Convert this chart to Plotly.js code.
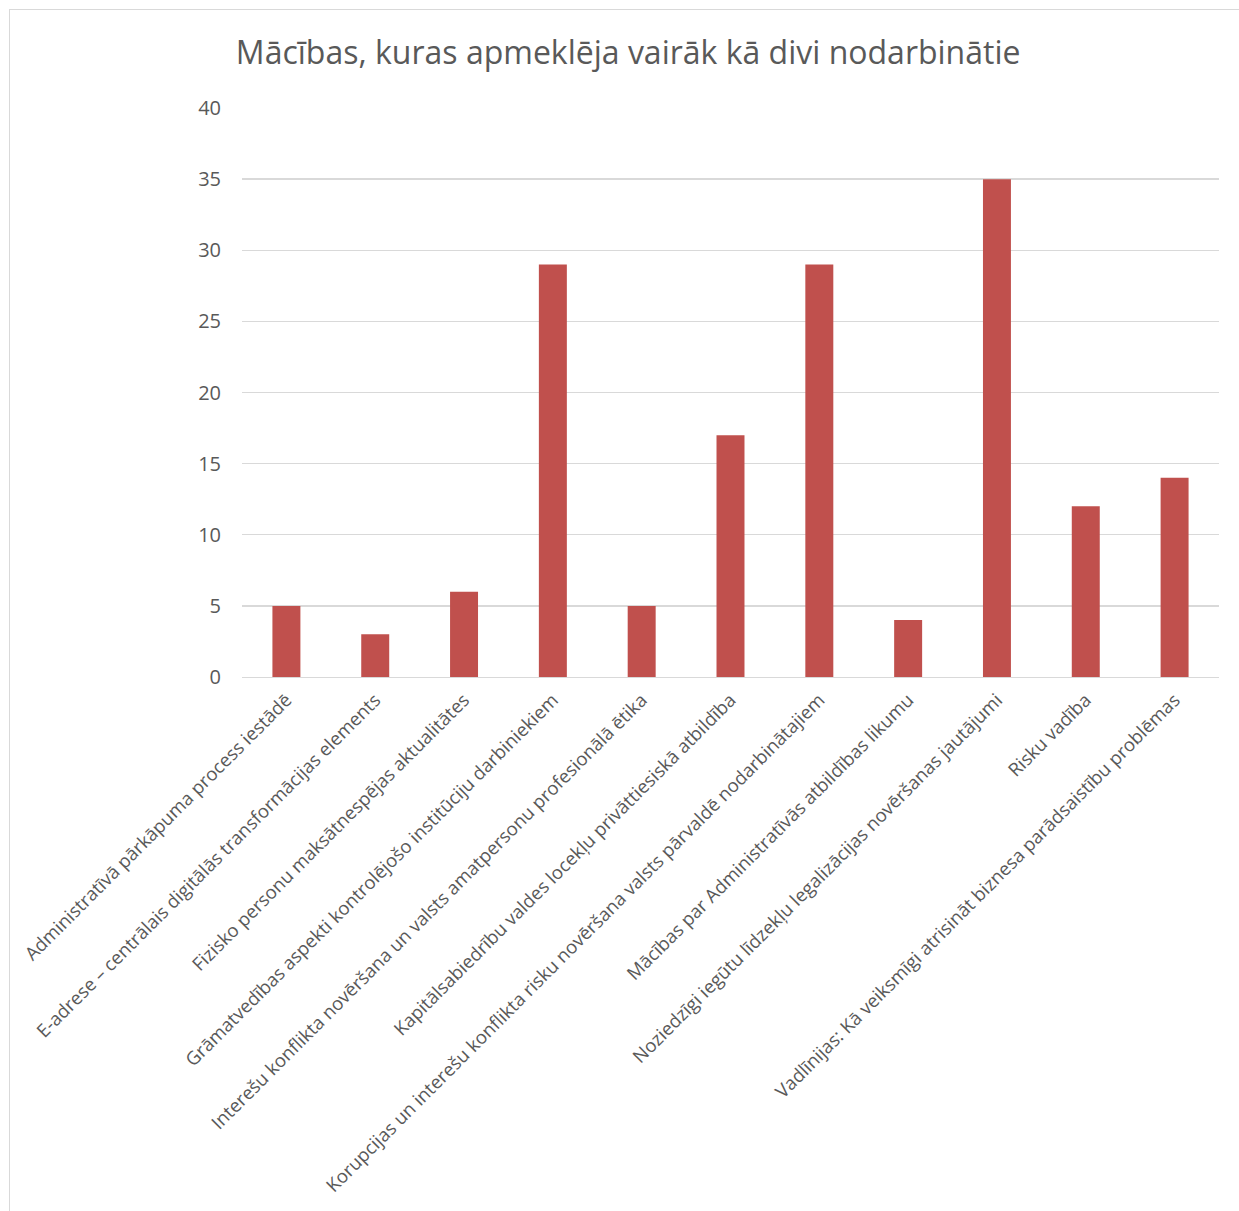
<!DOCTYPE html>
<html>
<head>
<meta charset="utf-8">
<script src="https://cdn.plot.ly/plotly-3.0.1.min.js"></script>
<style>
  html, body { margin: 0; padding: 0; background: #fff; }
  #wrap { position: relative; width: 1239px; height: 1211px; overflow: hidden; }
  #frame { position: absolute; left: 9px; top: 9px; width: 1260px; height: 1260px;
           border-left: 1px solid #d9d9d9; border-top: 1px solid #d9d9d9; pointer-events: none; }
  #chart { position: absolute; left: 0; top: 0; width: 1239px; height: 1211px; }
</style>
</head>
<body>
<div id="wrap">
  <div id="chart"></div>
  <div id="frame"></div>
</div>
<script>
const chartTitle = "Mācības, kuras apmeklēja vairāk kā divi nodarbinātie";
const categories = [
  "Administratīvā pārkāpuma process iestādē",
  "E-adrese – centrālais digitālās transformācijas elements",
  "Fizisko personu maksātnespējas aktualitātes",
  "Grāmatvedības aspekti kontrolējošo institūciju darbiniekiem",
  "Interešu konflikta novēršana un valsts amatpersonu profesionālā ētika",
  "Kapitālsabiedrību valdes locekļu privāttiesiskā atbildība",
  "Korupcijas un interešu konflikta risku novēršana valsts pārvaldē nodarbinātajiem",
  "Mācības par Administratīvās atbildības likumu",
  "Noziedzīgi iegūtu līdzekļu legalizācijas novēršanas jautājumi",
  "Risku vadība",
  "Vadlīnijas: Kā veiksmīgi atrisināt biznesa parādsaistību problēmas"
];
const values = [5, 3, 6, 29, 5, 17, 29, 4, 35, 12, 14];
const yTicks = [0, 5, 10, 15, 20, 25, 30, 35, 40];

const fontFamily = "'Open Sans', 'Noto Sans', sans-serif";
const textColor = "#595959";

Plotly.newPlot("chart", [{
  type: "bar",
  x: categories,
  y: values,
  marker: { color: "#C0504D" },
  hoverinfo: "x+y"
}], {
  width: 1239,
  height: 1211,
  margin: { l: 242, r: 20, t: 108, b: 534 },
  paper_bgcolor: "#ffffff",
  plot_bgcolor: "#ffffff",
  bargap: 0.685,
  showlegend: false,
  title: {
    text: chartTitle,
    font: { family: fontFamily, size: 32, color: textColor },
    xref: "container", x: 0.507, xanchor: "center",
    yref: "container", y: 0.956, yanchor: "middle"
  },
  xaxis: {
    type: "category",
    tickangle: -45,
    tickfont: { family: fontFamily, size: 18.5, color: textColor },
    showline: true, linecolor: "#d9d9d9", linewidth: 1,
    ticks: "", showgrid: false, automargin: false,
    ticklabelstandoff: 4
  },
  yaxis: {
    range: [0, 40],
    tickvals: yTicks,
    ticktext: yTicks.map(String),
    tickfont: { family: fontFamily, size: 20, color: textColor },
    gridcolor: "#d9d9d9", gridwidth: 1.3,
    zeroline: false, showline: false, ticks: "",
    ticklabelstandoff: 20, automargin: false
  }
}, { displayModeBar: false, staticPlot: true });
</script>
</body>
</html>
